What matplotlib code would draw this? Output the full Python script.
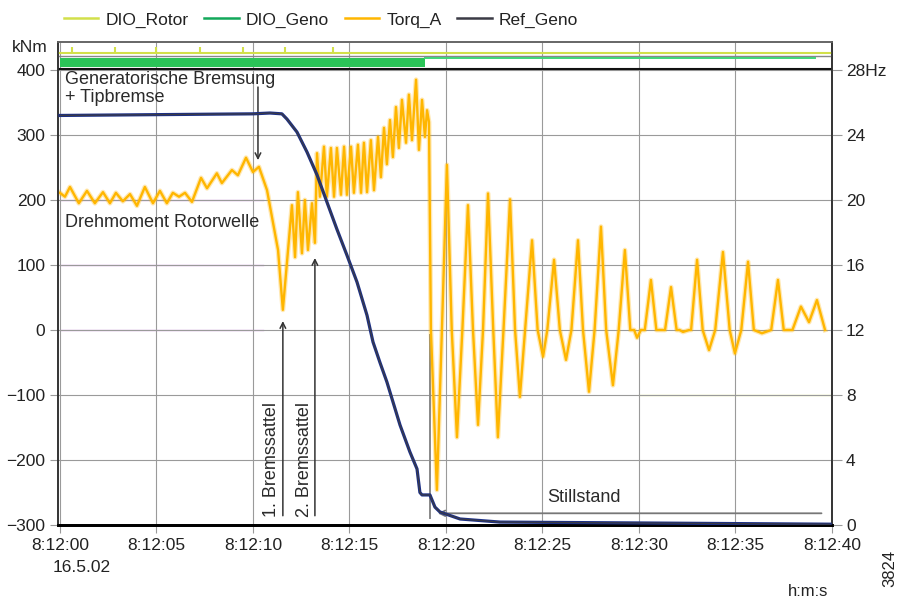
import matplotlib
matplotlib.use("Agg")
import matplotlib.pyplot as plt
from matplotlib.lines import Line2D

plt.rcParams['font.family'] = ['Liberation Sans', 'DejaVu Sans']

# seconds after 8:12:00
torq_t = [0.00, 0.26, 0.52, 0.98, 1.40, 1.81, 2.23, 2.59, 2.90, 3.26, 3.63, 3.99,
          4.40, 4.82, 5.18, 5.54, 5.85, 6.17, 6.48, 6.84, 7.31, 7.62, 8.13, 8.39,
          8.91, 9.22, 9.64, 10.00, 10.31, 10.73, 11.30, 11.55, 12.02, 12.18, 12.33,
          12.54, 12.69, 12.85, 13.06, 13.21, 13.32, 13.47, 13.68, 13.83, 14.04,
          14.20, 14.35, 14.56, 14.72, 14.87, 15.08, 15.23, 15.44, 15.60, 15.75,
          15.91, 16.11, 16.27, 16.48, 16.63, 16.79, 16.94, 17.10, 17.25, 17.41,
          17.56, 17.72, 17.93, 18.08, 18.24, 18.45, 18.60, 18.76, 18.91, 19.02,
          19.12, 19.22, 19.53, 19.79, 20.05, 20.30, 20.57, 20.85, 21.14, 21.40,
          21.66, 21.92, 22.18, 22.45, 22.69, 22.98, 23.32, 23.58, 23.83, 24.10,
          24.46, 24.75, 25.03, 25.25, 25.60, 25.90, 26.22, 26.50, 26.84, 27.10,
          27.41, 27.70, 28.03, 28.30, 28.65, 28.95, 29.27, 29.55, 29.75, 29.90,
          30.10, 30.30, 30.62, 30.90, 31.35, 31.66, 31.95, 32.10, 32.28, 32.60,
          32.70, 33.01, 33.30, 33.63, 33.95, 34.35, 34.70, 34.97, 35.30, 35.65,
          35.95, 36.37, 36.85, 37.20, 37.50, 37.95, 38.39, 38.81, 39.22, 39.64]
torq_knm = [211, 205, 220, 195, 214, 195, 212, 195, 211, 198, 209, 191,
            220, 195, 214, 195, 211, 205, 211, 197, 234, 218, 241, 226,
            246, 238, 265, 243, 251, 215, 123, 31, 192, 112, 212,
            118, 200, 123, 195, 134, 272, 205, 282, 205, 280,
            205, 280, 208, 282, 208, 282, 211, 285, 211, 288,
            212, 292, 215, 297, 235, 311, 255, 323, 266, 343,
            280, 354, 288, 362, 292, 385, 277, 354, 297, 338,
            320, 0, -246, 0, 254, 0, -165, 0, 192, 0,
            -146, 0, 210, 0, -165, 0, 201, 0, -103, 0,
            138, 0, -41, 0, 108, 0, -46, 0, 138, 0,
            -95, 0, 159, 0, -85, 0, 123, 0, 0, -12,
            0, 0, 77, 0, 0, 66, 0, 0, -3, 0,
            0, 108, 0, -31, 0, 120, 0, -36, 0, 105,
            0, -5, 0, 77, 0, 0, 36, 12, 46, 0]

ref_t = [0.0, 10.0, 10.88, 11.5, 11.76, 12.28, 12.80, 13.32, 13.83, 14.35, 14.87,
         15.39, 15.91, 16.22, 16.58, 16.94, 17.62, 18.13, 18.50, 18.65, 18.76,
         19.17, 19.43, 19.69, 20.73, 22.80, 39.9]
ref_hz = [25.2, 25.3, 25.35, 25.3, 24.98, 24.18, 22.95, 21.54, 19.88, 18.2, 16.6,
          14.95, 12.9, 11.26, 10.0, 8.8, 6.15, 4.5, 3.45, 2.0, 1.85,
          1.85, 1.1, 0.8, 0.37, 0.18, 0.05]

dio_rotor_level = 426
dio_rotor_marks = [0.6, 2.85, 5.0, 7.25, 9.5, 11.65, 14.15]
dio_geno_low, dio_geno_high = 405, 418
dio_geno_band_end = 18.9
dio_geno_line_end = 39.1

x_ticks = [0, 5, 10, 15, 20, 25, 30, 35, 40]
x_labels = ['8:12:00', '8:12:05', '8:12:10', '8:12:15', '8:12:20',
            '8:12:25', '8:12:30', '8:12:35', '8:12:40']
knm_ticks = [-300, -200, -100, 0, 100, 200, 300, 400]
hz_ticks = [0, 4, 8, 12, 16, 20, 24, 28]
hz_labels = ['0', '4', '8', '12', '16', '20', '24', '28Hz']

c_rotor = '#d2e04a'
c_geno = '#13a85a'
c_torq = '#ffb600'
c_ref = '#3b3b45'

fig = plt.figure(figsize=(9, 6), dpi=100)
ax = fig.add_axes([58 / 900, 75 / 600, 774 / 900, 483 / 600])
ax.set_xlim(-0.1, 40.0)
ax.set_ylim(-300, 443)

ax.set_xticks(x_ticks)
ax.set_xticklabels(x_labels)
ax.set_yticks(knm_ticks)
ax.grid(True, color='#9a9a9a', lw=0.8)
ax.tick_params(axis='both', length=6, color='#9a9a9a', width=0.8,
               labelsize=12.5, labelcolor='#222', pad=3)

# faint coloured grid segments
for lvl in [200, 100, 0]:
    ax.plot([0, 10.5], [lvl, lvl], color='#d9a0e8', lw=1.0, zorder=1.5)
ax.plot([30.0, 40.0], [-100, -100], color='#e6eb9a', lw=1.0, zorder=1.5)

# top strip with DIO channels
ax.axhline(401, color='#111', lw=1.5, zorder=3)
ax.axhline(422, color='#888', lw=1.0, zorder=3)
ax.axhline(dio_rotor_level, color=c_rotor, lw=1.5, zorder=4)
ax.vlines(dio_rotor_marks, dio_rotor_level, dio_rotor_level + 9, color=c_rotor, lw=1.5, zorder=4)
ax.fill_between([0, dio_geno_band_end], dio_geno_low, dio_geno_high,
                color='#2bc458', lw=0, zorder=3)
ax.plot([dio_geno_band_end, dio_geno_line_end], [dio_geno_high, dio_geno_high],
        color='#3fd67a', lw=1.4, zorder=3)

ax.plot(torq_t, torq_knm, color=c_torq, lw=3.5, alpha=0.3, zorder=4)
ax.plot(torq_t, torq_knm, color=c_torq, lw=1.7, zorder=5)

ax2 = ax.twinx()
ax2.set_ylim(0, (443 + 300) / 25)
ax2.set_yticks(hz_ticks)
ax2.set_yticklabels(hz_labels)
ax2.tick_params(axis='y', length=7, color='#9a9a9a', width=0.8,
                labelsize=12.5, labelcolor='#222', pad=3)
ax2.plot(ref_t, ref_hz, color='#1b2f86', lw=2.3, zorder=4)
ax2.plot(ref_t, ref_hz, color=c_ref, lw=0.9, zorder=5)

for a in (ax, ax2):
    for s in a.spines.values():
        s.set_color('#333')
        s.set_linewidth(1.2)
    a.spines['bottom'].set_color('#000')
    a.spines['bottom'].set_linewidth(2.0)
    a.spines['top'].set_color('#666')

# annotations
txt = dict(fontsize=13, color='#2a2a2a')
ax.text(0.25, 398, 'Generatorische Bremsung\n+ Tipbremse', va='top', ha='left',
        linespacing=1.05, **txt)
ax.annotate('', xy=(10.26, 257), xytext=(10.26, 378),
            arrowprops=dict(arrowstyle='->', color='#333', lw=1.1))
ax.text(0.25, 166, 'Drehmoment Rotorwelle', va='center', ha='left', **txt)
ax.annotate('', xy=(11.55, 18), xytext=(11.55, -290),
            arrowprops=dict(arrowstyle='->', color='#333', lw=1.1))
ax.annotate('', xy=(13.21, 115), xytext=(13.21, -290),
            arrowprops=dict(arrowstyle='->', color='#333', lw=1.1))
ax.text(10.95, -288, '1. Bremssattel', rotation=90, ha='center', va='bottom', **txt)
ax.text(12.68, -288, '2. Bremssattel', rotation=90, ha='center', va='bottom', **txt)
ax.plot([19.17, 19.17], [-8, -290], color='#888', lw=1.4, zorder=3)
ax.annotate('', xy=(19.43, -282), xytext=(39.6, -282),
            arrowprops=dict(arrowstyle='->', color='#777', lw=1.3))
ax.text(27.15, -257, 'Stillstand', ha='center', va='center', **txt)

fig.text(12 / 900, 1 - 48 / 600, 'kNm', ha='left', va='center', fontsize=12.5, color='#222')
fig.text(82 / 900, 1 - 567 / 600, '16.5.02', ha='center', va='center', fontsize=12.5, color='#222')
fig.text(808 / 900, 1 - 591 / 600, 'h:m:s', ha='center', va='center', fontsize=12, color='#222')
fig.text(890 / 900, 1 - 568 / 600, '3824', ha='center', va='center', rotation=90,
         fontsize=12, color='#222')

handles = [Line2D([], [], color=c_rotor, lw=1.8),
           Line2D([], [], color=c_geno, lw=1.8),
           Line2D([], [], color=c_torq, lw=1.8),
           Line2D([], [], color=c_ref, lw=1.8)]
fig.legend(handles, ['DIO_Rotor', 'DIO_Geno', 'Torq_A', 'Ref_Geno'],
           loc='center left', bbox_to_anchor=(48 / 900, 1 - 20 / 600), ncol=4,
           frameon=False, fontsize=12.5, handlelength=2.0, handletextpad=0.4,
           columnspacing=0.9, labelcolor='#222')

fig.savefig('out.png', dpi=100)
